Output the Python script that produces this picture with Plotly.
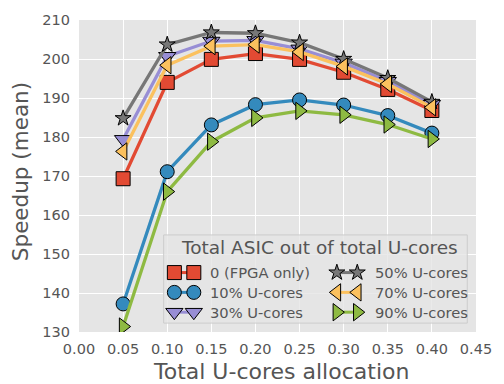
import plotly.graph_objects as go

# Total U-cores allocation
alloc = [0.05, 0.10, 0.15, 0.20, 0.25, 0.30, 0.35, 0.40]

# Mean speedup for each share of ASIC cores among the U-cores
fpga_only = [169.3, 194.0, 199.9, 201.4, 199.9, 196.6, 192.2, 186.8]
asic_10 = [137.2, 171.1, 183.1, 188.3, 189.5, 188.2, 185.5, 181.0]
asic_30 = [179.4, 200.7, 204.6, 204.8, 202.6, 199.0, 194.3, 188.4]
asic_50 = [184.8, 203.7, 206.8, 206.6, 204.2, 200.0, 195.1, 189.0]
asic_70 = [176.3, 198.4, 203.3, 203.7, 201.8, 198.1, 193.6, 187.6]
asic_90 = [131.4, 166.0, 178.8, 184.9, 186.7, 185.7, 183.2, 179.5]

series_names = ["0 (FPGA only)", "10% U-cores", "30% U-cores",
                "50% U-cores", "70% U-cores", "90% U-cores"]
series_values = [fpga_only, asic_10, asic_30, asic_50, asic_70, asic_90]

x_ticks = [0.00, 0.05, 0.10, 0.15, 0.20, 0.25, 0.30, 0.35, 0.40, 0.45]
y_ticks = [130, 140, 150, 160, 170, 180, 190, 200, 210]

colors = ["#E24A33", "#348ABD", "#988ED5", "#777777", "#FBC15E", "#8EBA42"]
symbols = ["square", "circle", "triangle-down", "star", "triangle-left", "triangle-right"]
sizes = [14, 14, 15, 12, 15, 15]

FONT = "DejaVu Sans"
TXT = "#555555"

W, H = 504, 384
L, R, T, B = 79, 17, 17, 52
PW, PH = W - L - R, H - T - B


def px(xp):
    return (xp - L) / PW


def py(yp):
    return (H - B - yp) / PH


fig = go.Figure()

for name, vals, col, sym, sz in zip(series_names, series_values, colors, symbols, sizes):
    fig.add_trace(go.Scatter(
        x=alloc, y=vals, mode="lines+markers", name=name,
        line=dict(color=col, width=3.3),
        marker=dict(symbol=sym, size=sz, color=col, line=dict(color="black", width=1)),
        showlegend=False,
    ))

# Overlay axes in pixel units for the legend box
box_l, box_r, box_t, box_b = 166, 478, 234, 323
fig.add_trace(go.Scatter(
    x=[box_l, box_r, box_r, box_l, box_l], y=[box_t, box_t, box_b, box_b, box_t],
    mode="lines", fill="toself", fillcolor="rgba(229,229,229,0.8)",
    line=dict(color="#CCCCCC", width=1), xaxis="x2", yaxis="y2",
    showlegend=False, hoverinfo="skip",
))

col_marker_x = [(177, 197), (344, 365)]
col_text_x = [212, 381]
row_y = [272, 292, 312]

annotations = [dict(
    x=px((box_l + box_r) / 2 + 4), y=py(247), xref="paper", yref="paper",
    text="Total ASIC out of total U-cores", showarrow=False,
    xanchor="center", yanchor="middle",
    font=dict(family=FONT, size=18.5, color=TXT),
)]

for i, (name, col, sym, sz) in enumerate(zip(series_names, colors, symbols, sizes)):
    c, r = divmod(i, 3)
    mx = col_marker_x[c]
    yy = row_y[r]
    fig.add_trace(go.Scatter(
        x=list(mx), y=[yy, yy], mode="lines+markers",
        line=dict(color=col, width=3),
        marker=dict(symbol=sym, size=sz, color=col, line=dict(color="black", width=1)),
        xaxis="x2", yaxis="y2", showlegend=False, hoverinfo="skip",
    ))
    annotations.append(dict(
        x=px(col_text_x[c]), y=py(yy), xref="paper", yref="paper", text=name,
        showarrow=False, xanchor="left", yanchor="middle",
        font=dict(family=FONT, size=14.7, color=TXT),
    ))

# Axis titles
annotations.append(dict(
    x=px(287), y=py(372), xref="paper", yref="paper",
    text="Total U-cores allocation", showarrow=False,
    xanchor="center", yanchor="middle",
    font=dict(family=FONT, size=22, color=TXT),
))
annotations.append(dict(
    x=px(19), y=py(170), xref="paper", yref="paper",
    text="Speedup (mean)", showarrow=False, textangle=-90,
    xanchor="center", yanchor="middle",
    font=dict(family=FONT, size=21.5, color=TXT),
))

fig.update_layout(
    width=W, height=H,
    margin=dict(l=L, r=R, t=T, b=B, pad=0),
    paper_bgcolor="white", plot_bgcolor="#E5E5E5",
    font=dict(family=FONT, color=TXT),
    xaxis=dict(
        range=[0, 0.45], tickvals=x_ticks,
        ticktext=[f"{v:.2f}" for v in x_ticks],
        showgrid=True, gridcolor="white", gridwidth=1.3,
        zeroline=False, showline=False, ticks="",
        ticklabelstandoff=6,
        tickfont=dict(family=FONT, size=14.5, color=TXT),
    ),
    yaxis=dict(
        range=[130, 210], tickvals=y_ticks,
        showgrid=True, gridcolor="white", gridwidth=1.3,
        zeroline=False, showline=False, ticks="",
        ticklabelstandoff=8,
        tickfont=dict(family=FONT, size=14.5, color=TXT),
    ),
    xaxis2=dict(range=[L, W - R], overlaying="x", anchor="y2", visible=False, fixedrange=True),
    yaxis2=dict(range=[H - B, T], overlaying="y", anchor="x2", visible=False, fixedrange=True),
    annotations=annotations,
)

fig.write_html("out.html")
